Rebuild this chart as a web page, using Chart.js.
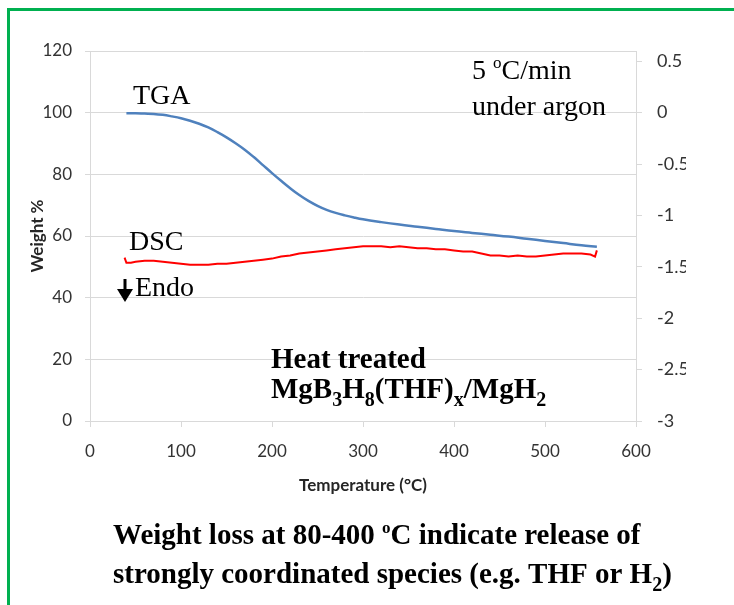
<!DOCTYPE html>
<html>
<head>
<meta charset="utf-8">
<script src="https://cdn.jsdelivr.net/npm/chart.js@4.4.1/dist/chart.umd.min.js"></script>
<style>
  html, body { margin: 0; padding: 0; background: #fff; }
  body { width: 734px; height: 605px; overflow: hidden; position: relative; }
  #frame { position: absolute; left: 7px; top: 8px; width: 780px; height: 650px;
           border: 3px solid #00b050; box-sizing: border-box; }
  #wrap { position: absolute; left: 0; top: 0; width: 686px; height: 605px; }
</style>
</head>
<body>
<div id="frame"></div>
<div id="wrap"><canvas id="c" width="686" height="605"></canvas></div>
<script>
// Thermogravimetric trace: temperature (°C) vs weight (%)
const tgaTemp = [40, 50, 60, 70, 80, 90, 100, 110, 120, 130, 140, 150, 160, 170, 180, 190,
                 200, 210, 220, 230, 240, 250, 260, 270, 280, 290, 300, 320, 340, 360, 380,
                 400, 420, 440, 460, 480, 500, 520, 540, 557];
const tgaWeight = [99.8, 99.8, 99.7, 99.6, 99.3, 98.8, 98.2, 97.4, 96.4, 95.2, 93.7, 92.0, 90.1,
                   88.0, 85.6, 83.0, 80.4, 77.9, 75.5, 73.3, 71.4, 69.8, 68.5, 67.5, 66.7, 66.0,
                   65.4, 64.5, 63.7, 63.0, 62.3, 61.6, 61.0, 60.4, 59.8, 59.1, 58.4, 57.7, 57.0, 56.5];

// Calorimetry trace: temperature (°C) vs heat flow (secondary axis)
const dscTemp = [38, 40, 45, 50, 60, 70, 80, 90, 100, 110, 120, 130, 140, 150, 160, 170, 180,
                 190, 200, 210, 220, 230, 240, 250, 260, 270, 280, 290, 300, 310, 320, 330, 340,
                 350, 360, 370, 380, 390, 400, 410, 420, 430, 440, 450, 460, 470, 480, 490, 500,
                 510, 520, 530, 540, 550, 555, 557];
const dscHeatFlow = [-1.41, -1.46, -1.46, -1.45, -1.44, -1.44, -1.45, -1.46, -1.47, -1.48, -1.48,
                     -1.48, -1.47, -1.47, -1.46, -1.45, -1.44, -1.43, -1.42, -1.40, -1.39, -1.37,
                     -1.36, -1.35, -1.34, -1.33, -1.32, -1.31, -1.30, -1.30, -1.30, -1.31, -1.30,
                     -1.31, -1.32, -1.32, -1.33, -1.33, -1.34, -1.35, -1.35, -1.37, -1.39, -1.39,
                     -1.40, -1.39, -1.40, -1.40, -1.39, -1.38, -1.37, -1.37, -1.37, -1.38, -1.40, -1.34];

// Axis ranges and tick values
const tempRange = [0, 600], tempStep = 100;
const weightRange = [0, 120], weightStep = 20;
const heatRange = [-3, 0.6];
const heatTicks = [-3, -2.5, -2, -1.5, -1, -0.5, 0, 0.5];

const axisFont = { family: 'Lato, "DejaVu Sans", sans-serif', size: 17 };
const axisTitleFont = { family: 'Lato, "DejaVu Sans", sans-serif', size: 17, weight: 'bold' };
const tickColor = '#333333';
const gridGray = '#d9d9d9';
const SERIF = '"Liberation Serif", "Times New Roman", serif';

// Draws a run of text pieces; pieces may be superscript or subscript
function richText(ctx, pieces, x, y, size, bold) {
  const w = bold ? 'bold ' : '';
  for (const p of pieces) {
    let fs = size, dy = 0;
    if (p.sup) { fs = Math.round(size * 0.6); dy = -size * 0.38; }
    if (p.sub) { fs = Math.round(size * 0.68); dy = size * 0.28; }
    ctx.font = w + fs + 'px ' + SERIF;
    ctx.fillText(p.t, x, y + dy);
    x += ctx.measureText(p.t).width;
  }
}

const notes = {
  id: 'notes',
  afterDraw(chart) {
    const c = chart.ctx;
    c.save();
    c.fillStyle = '#000';
    c.textBaseline = 'alphabetic';
    c.textAlign = 'left';

    richText(c, [{ t: 'TGA' }], 133, 104, 28, false);
    richText(c, [{ t: 'DSC' }], 129, 250, 28, false);
    richText(c, [{ t: 'Endo' }], 135, 296, 28, false);

    // endothermic direction arrow
    c.fillRect(123.5, 279, 3, 12);
    c.beginPath();
    c.moveTo(117, 289); c.lineTo(133, 289); c.lineTo(125, 302); c.closePath();
    c.fill();

    richText(c, [{ t: '5 ' }, { t: 'o', sup: true }, { t: 'C/min' }], 472, 79, 28, false);
    richText(c, [{ t: 'under argon' }], 472, 115, 28, false);

    richText(c, [{ t: 'Heat treated' }], 271, 368, 29, true);
    richText(c, [{ t: 'MgB' }, { t: '3', sub: true }, { t: 'H' }, { t: '8', sub: true },
                 { t: '(THF)' }, { t: 'x', sub: true }, { t: '/MgH' }, { t: '2', sub: true }],
             271, 398, 29, true);

    richText(c, [{ t: 'Weight loss at 80-400 ' }, { t: 'o', sup: true },
                 { t: 'C indicate release of' }], 113, 544, 29, true);
    richText(c, [{ t: 'strongly coordinated species (e.g. THF or H' }, { t: '2', sub: true },
                 { t: ')' }], 113, 583, 29, true);
    c.restore();
  }
};

const ctx = document.getElementById('c').getContext('2d');
new Chart(ctx, {
  type: 'scatter',
  data: {
    datasets: [
      {
        label: 'TGA',
        data: tgaTemp.map((t, i) => ({ x: t, y: tgaWeight[i] })),
        yAxisID: 'y',
        showLine: true,
        borderColor: '#4f81bd',
        borderWidth: 2.5,
        pointRadius: 0,
        tension: 0.4,
        fill: false
      },
      {
        label: 'DSC',
        data: dscTemp.map((t, i) => ({ x: t, y: dscHeatFlow[i] })),
        yAxisID: 'y1',
        showLine: true,
        borderColor: '#ff0000',
        borderWidth: 2,
        pointRadius: 0,
        tension: 0,
        fill: false
      }
    ]
  },
  options: {
    responsive: false,
    animation: false,
    devicePixelRatio: 1,
    layout: { padding: { top: 51, bottom: 105, left: 0, right: 0 } },
    plugins: { legend: { display: false }, tooltip: { enabled: false } },
    scales: {
      x: {
        type: 'linear',
        position: 'bottom',
        min: tempRange[0], max: tempRange[1],
        ticks: { stepSize: tempStep, font: axisFont, color: tickColor, padding: 14, maxRotation: 0 },
        grid: { drawOnChartArea: false, tickLength: 6, color: gridGray },
        border: { color: gridGray },
        title: { display: true, text: 'Temperature (°C)', font: axisTitleFont, color: '#262626',
                 padding: { top: 0, bottom: 4 } },
        afterFit(s) { s.height = 79; }
      },
      y: {
        position: 'left',
        min: weightRange[0], max: weightRange[1],
        ticks: { stepSize: weightStep, font: axisFont, color: tickColor, padding: 13 },
        grid: { color: gridGray, tickLength: 5 },
        border: { color: gridGray },
        title: { display: true, text: 'Weight %', font: axisTitleFont, color: '#262626',
                 padding: { top: 27, bottom: 0 } },
        afterFit(s) { s.width = 90; }
      },
      y1: {
        position: 'right',
        min: heatRange[0], max: heatRange[1],
        ticks: { font: { family: axisFont.family, size: 18 }, color: tickColor, padding: 15,
                 callback: v => String(v) },
        afterBuildTicks(s) { s.ticks = heatTicks.map(v => ({ value: v })); },
        grid: { drawOnChartArea: false, tickLength: 6, color: gridGray },
        border: { color: gridGray },
        afterFit(s) { s.width = 50; }
      }
    }
  },
  plugins: [notes]
});
</script>
</body>
</html>
